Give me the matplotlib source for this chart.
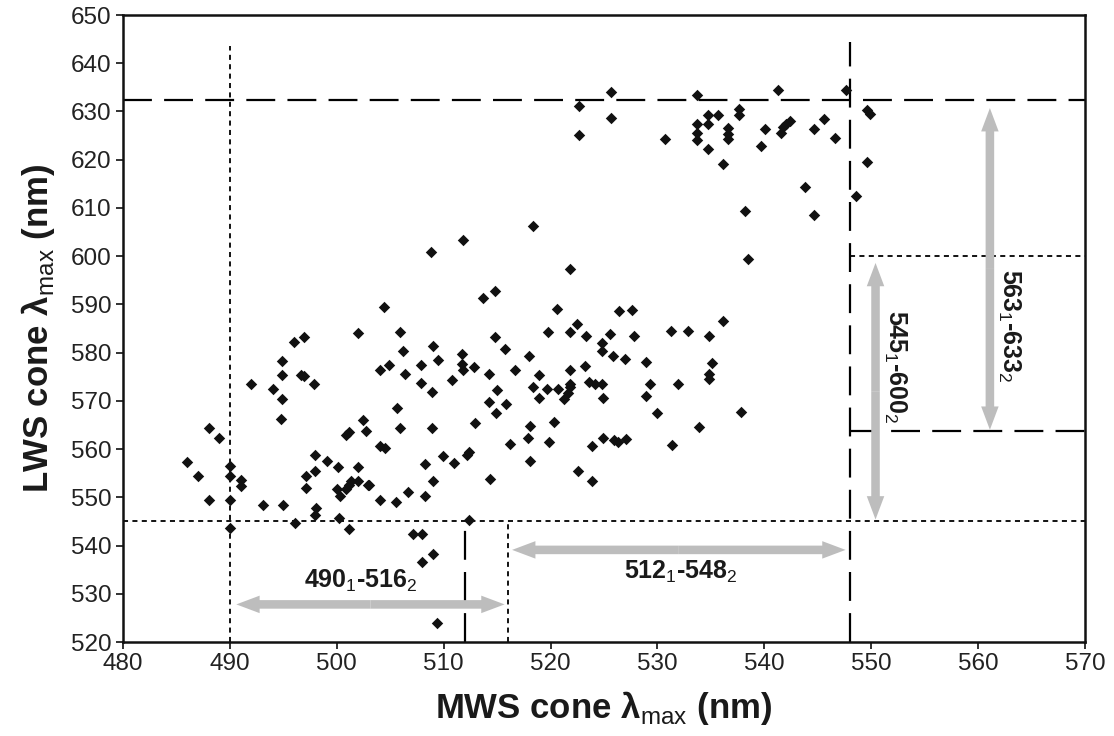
import matplotlib
matplotlib.use("Agg")
import matplotlib.pyplot as plt
from matplotlib.patches import FancyArrowPatch

plt.rcParams['font.family'] = ['Liberation Sans', 'DejaVu Sans']
plt.rcParams['mathtext.fontset'] = 'custom'
plt.rcParams['mathtext.rm'] = 'Liberation Sans'
plt.rcParams['mathtext.bf'] = 'Liberation Sans:bold'

# MWS / LWS cone peak sensitivities (nm)
mws = [
    486.0, 487.0, 488.0, 489.0, 488.0, 490.0, 490.0, 490.0, 490.0, 491.0,
    491.0, 492.0, 493.1, 494.0, 494.8, 494.9, 494.9, 494.9, 495.0, 496.0,
    496.9, 496.7, 496.9, 497.9, 496.1, 497.1, 497.1, 498.0, 498.0, 499.1,
    498.1, 498.0, 500.1, 500.0, 500.3, 500.2, 501.1, 500.9, 501.1, 501.3,
    501.1, 500.9, 502.0, 502.0, 502.0, 502.9, 503.0, 502.5, 502.7, 504.0,
    504.9, 504.0, 504.5, 504.0, 504.4, 505.5, 505.6, 505.9, 505.9, 506.2,
    506.4, 506.7, 507.1, 508.0, 508.0, 509.0, 509.4, 507.9, 507.9, 508.3,
    508.3, 508.8, 508.9, 508.9, 509.0, 509.0, 509.5, 509.9, 510.8, 511.0,
    511.7, 511.7, 511.8, 511.8, 512.2, 512.4, 512.4, 512.8, 512.9, 513.7,
    514.8, 514.2, 514.2, 514.3, 514.8, 514.9, 515.0, 515.7, 515.8, 516.2,
    516.7, 517.9, 518.0, 518.1, 518.1, 518.4, 518.4, 518.9, 518.9, 519.7,
    519.8, 519.9, 520.3, 520.6, 520.7, 521.3, 521.6, 521.8, 521.8, 521.8,
    521.8, 521.8, 522.5, 522.6, 523.2, 523.3, 523.6, 524.2, 524.8, 523.9,
    523.9, 524.8, 524.8, 524.9, 524.9, 525.6, 525.8, 525.9, 526.3, 526.4,
    527.0, 527.1, 527.6, 527.8, 528.9, 528.9, 529.3, 530.0, 531.3, 531.4,
    531.9, 532.9, 533.9, 534.8, 534.8, 534.8, 535.1, 536.1, 537.8, 538.5,
    522.7, 522.7, 525.7, 525.7, 530.7, 533.7, 533.7, 533.7, 533.7, 534.7,
    535.7, 534.7, 534.7, 536.1, 537.6, 537.6, 536.6, 536.6, 536.6, 540.1,
    539.7, 541.3, 541.6, 541.7, 542.0, 542.4, 544.6, 545.6, 546.6, 547.6,
    549.6, 549.9, 549.6, 548.6, 543.8, 544.6, 538.2,
]
lws = [
    557.4, 554.4, 564.3, 562.4, 549.4, 556.5, 554.4, 549.4, 543.6, 553.5,
    552.3, 573.4, 548.4, 572.4, 566.2, 570.3, 575.3, 578.3, 548.4, 582.3,
    583.3, 575.3, 575.1, 573.4, 544.7, 554.4, 552.0, 558.8, 555.5, 557.5,
    547.8, 546.4, 556.2, 551.7, 550.2, 545.7, 543.5, 562.9, 563.6, 553.3,
    552.6, 551.7, 584.1, 556.3, 553.4, 552.6, 552.5, 566.0, 563.8, 576.4,
    577.4, 560.6, 560.3, 549.4, 589.4, 549.1, 568.6, 564.4, 584.3, 580.4,
    575.6, 551.0, 542.4, 542.4, 536.5, 538.3, 524.0, 577.4, 573.8, 556.9,
    550.2, 600.8, 571.9, 564.4, 553.4, 581.4, 578.4, 558.5, 574.3, 557.2,
    579.8, 577.6, 576.4, 603.3, 558.7, 559.3, 545.4, 577.0, 565.5, 591.3,
    592.8, 575.6, 569.7, 553.9, 583.3, 567.4, 572.3, 580.7, 569.3, 561.1,
    576.3, 562.4, 579.4, 564.8, 557.5, 572.9, 606.2, 575.4, 570.5, 572.4,
    584.3, 561.5, 565.7, 589.1, 572.4, 570.4, 571.6, 597.3, 584.3, 576.4,
    573.5, 572.8, 586.0, 555.5, 577.2, 583.4, 573.9, 573.5, 573.4, 560.6,
    553.4, 582.0, 580.4, 570.5, 562.4, 583.9, 579.2, 561.8, 561.5, 588.7,
    578.6, 562.0, 588.8, 583.4, 578.0, 571.1, 573.5, 567.5, 584.5, 560.8,
    573.4, 584.5, 564.6, 583.5, 575.6, 574.6, 577.8, 586.6, 567.6, 599.4,
    631.1, 625.1, 634.1, 628.6, 624.2, 633.4, 627.3, 625.6, 624.1, 629.3,
    629.3, 627.3, 622.3, 619.1, 630.5, 629.3, 626.5, 625.3, 624.2, 626.4,
    622.8, 634.4, 625.6, 626.8, 627.5, 628.0, 626.4, 628.4, 624.4, 634.5,
    630.4, 629.5, 619.5, 612.5, 614.3, 608.5, 609.4,
]

x_ticks = [480, 490, 500, 510, 520, 530, 540, 550, 560, 570]
y_ticks = [520, 530, 540, 550, 560, 570, 580, 590, 600, 610, 620, 630, 640, 650]

# range limits (nm)
mws_lo1, mws_hi1 = 490, 516
mws_lo2, mws_hi2 = 512, 548
lws_lo1, lws_hi1 = 545, 600
lws_lo2, lws_hi2 = 563, 633
lws_lo2_line = 563.8
lws_hi2_line = 632.3

fig = plt.figure(figsize=(11.14, 7.36), dpi=100)
ax = fig.add_axes([0.1104, 0.1277, 0.8636, 0.8519])
ax.set_xlim(480, 570)
ax.set_ylim(520, 650)

ax.scatter(mws, lws, marker='D', s=34, color='#111111', linewidths=0, zorder=5)

long_dash = dict(color='black', lw=1.6, dashes=(13, 5.5))
dotted = dict(color='black', lw=1.3, dashes=(2.8, 2.4))

# horizontal guides
ax.plot([480, 570], [lws_hi2_line, lws_hi2_line], **long_dash)
ax.plot([480, 570], [lws_lo1, lws_lo1], **dotted)
ax.plot([mws_hi2, 570], [lws_hi1, lws_hi1], **dotted)
ax.plot([mws_hi2, 570], [lws_lo2_line, lws_lo2_line], **long_dash)
# vertical guides
ax.plot([mws_hi2, mws_hi2], [520, 644.5], **long_dash)
ax.plot([mws_lo1, mws_lo1], [520, 643.5], **dotted)
ax.plot([mws_lo2, mws_lo2], [520, lws_lo1], **long_dash)
ax.plot([mws_hi1, mws_hi1], [520, lws_lo1], **dotted)


def double_arrow(p0, p1):
    mid = ((p0[0] + p1[0]) / 2, (p0[1] + p1[1]) / 2)
    for end in (p0, p1):
        ax.add_patch(FancyArrowPatch(
            mid, end, arrowstyle='simple,head_length=0.6,head_width=0.45,tail_width=0.22',
            mutation_scale=28, facecolor='#bdbdbd', edgecolor='none', lw=0,
            shrinkA=0, shrinkB=0, zorder=4))


double_arrow((490.6, 527.8), (515.7, 527.8))
double_arrow((516.4, 539.1), (547.6, 539.1))
double_arrow((550.4, 545.4), (550.4, 598.6))
double_arrow((561.1, 564.0), (561.1, 630.7))

lab = dict(fontsize=18, fontweight='bold', color='#1a1a1a', ha='center', va='center', zorder=6)
ax.text(502.2, 532.6, r'490$_{1}$-516$_{2}$', **lab)
ax.text(532.2, 534.6, r'512$_{1}$-548$_{2}$', **lab)
ax.text(552.2, 577.0, r'545$_{1}$-600$_{2}$', rotation=-90, **lab)
ax.text(562.9, 585.6, r'563$_{1}$-633$_{2}$', rotation=-90, **lab)

ax.set_xticks(x_ticks)
ax.set_yticks(y_ticks)
ax.tick_params(direction='out', length=5, width=1.3, labelsize=17.5, colors='#222222', pad=3)
for s in ax.spines.values():
    s.set_linewidth(1.8)
    s.set_color('#111111')

axlab = dict(fontsize=25, fontweight='bold', color='#1a1a1a')
ax.set_xlabel(r'MWS cone λ$_{\rm max}$ (nm)', labelpad=10, **axlab)
ax.set_ylabel(r'LWS cone λ$_{\rm max}$ (nm)', labelpad=10, **axlab)

fig.savefig('out.png', dpi=100, facecolor='white')
